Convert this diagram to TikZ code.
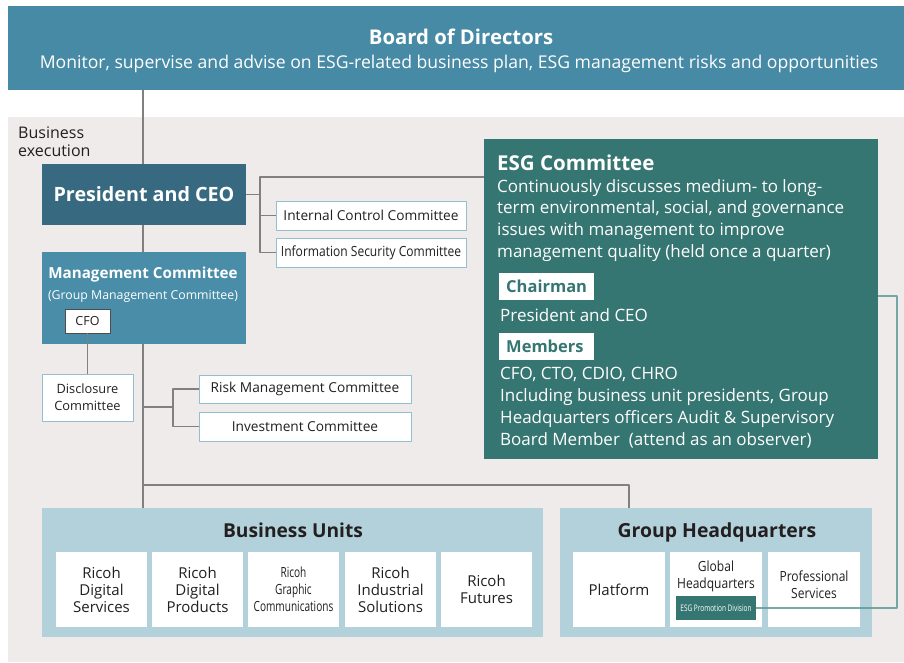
\documentclass[tikz,border=0pt]{standalone}
\usepackage{fontspec}
\setmainfont{Open Sans}
\newfontfamily\narrowfont[FakeStretch=0.72]{Open Sans}
\newfontfamily\semifont[FakeStretch=0.86]{Open Sans}
\usetikzlibrary{positioning,calc}
\definecolor{boardblue}{RGB}{71,138,165}
\definecolor{presblue}{RGB}{55,106,128}
\definecolor{mgmtblue}{RGB}{74,141,168}
\definecolor{esgteal}{RGB}{54,118,114}
\definecolor{bggray}{RGB}{239,235,234}
\definecolor{unitblue}{RGB}{179,209,219}
\definecolor{comborder}{RGB}{146,190,206}
\definecolor{linegray}{RGB}{128,128,128}
\definecolor{esgline}{RGB}{95,156,153}
\definecolor{textdark}{RGB}{35,31,32}
\newcommand\fs[2]{\fontsize{#1}{#2}\selectfont}

\begin{document}
\begin{tikzpicture}[x=1pt,y=-1pt, line join=round, text=textdark,
  link/.style={draw=linegray, line width=1.1pt},
  esglink/.style={draw=esgline, line width=1.2pt},
  combox/.style={draw=comborder, fill=white, line width=1pt, inner sep=0pt, align=center},
  unit/.style={fill=white, minimum width=91pt, minimum height=75pt, inner sep=0pt, align=center, font=\fs{15}{17}},
  tag/.style={fill=white, text=esgteal, minimum width=95pt, minimum height=27pt, inner sep=0pt, font=\bfseries\fs{16.5}{18}, text width=81pt, align=left},
  txt/.style={inner sep=0pt, anchor=base west}]
\useasboundingbox (0,0) rectangle (904,662);
\fill[bggray] (8,117) rectangle (904,662);

% board
\node[fill=boardblue, minimum width=896pt, minimum height=84pt, inner sep=0pt] (board) at (456,48) {};
\node[inner sep=0pt, anchor=base, text=white, font=\bfseries\fs{20.3}{24}] (boardtitle) at (461,44) {Board of Directors};
\node[inner sep=0pt, anchor=base, text=white, font=\fs{17.6}{20}] (boardsub) at (459,68) {Monitor, supervise and advise on ESG-related business plan, ESG management risks and opportunities};
\node[txt, align=left, font=\fs{16}{18}] (busexec) at (18,156) {Business\\execution};

\coordinate (spine) at (143,0);
\coordinate (pj) at (260,177);
\coordinate (mj) at (173,407);
\coordinate (hj) at (629,485);
\coordinate (ej) at (897,296);

% executive nodes
\node[fill=presblue, minimum width=204pt, minimum height=61pt, inner sep=0pt, text=white, font=\bfseries\fs{19.7}{24}] (pres) at (144,194.5) {President and CEO};
\node[fill=mgmtblue, minimum width=204pt, minimum height=92pt, inner sep=0pt] (mgmt) at (144,298) {};
\node[inner sep=0pt, anchor=base, text=white, font=\bfseries\fs{15.2}{18}] (mgmttitle) at (143,278) {Management Committee};
\node[inner sep=0pt, anchor=base, text=white, font=\fs{12.3}{15}] (mgmtsub) at (143,299) {(Group Management Committee)};
\node[draw=black!70, fill=white, line width=0.8pt, minimum width=45pt, minimum height=24pt, inner sep=0pt, font=\fs{12.5}{14}] (cfo) at (87.5,321) {CFO};
\node[combox, minimum width=91pt, minimum height=47pt, font=\fs{12.8}{17}] (disc) at (87.5,397.5) {Disclosure\\Committee};

\node[combox, minimum width=190pt, minimum height=29pt, font=\fs{13.7}{16}] (icc) at (371,215.5) {Internal Control Committee};
\node[combox, minimum width=190pt, minimum height=29pt, font=\semifont\fs{14}{16}] (isc) at (371,252.5) {Information Security Committee};
\node[combox, minimum width=212pt, minimum height=28pt, font=\fs{13.7}{16}] (risk) at (305,389) {Risk Management Committee};
\node[combox, minimum width=212pt, minimum height=29pt, font=\fs{13.7}{16}] (inv) at (305,426.5) {Investment Committee};

% ESG committee
\node[fill=esgteal, minimum width=394pt, minimum height=320pt, inner sep=0pt] (esg) at (681,299) {};
\node[txt, text=white, font=\bfseries\fs{20.5}{24}] (esgtitle) at (497,170) {ESG Committee};
\node[inner sep=0pt, anchor=north west, align=left, text=white, font=\fs{17}{21.7}] (esgtext) at (497,179) {Continuously discusses medium- to long-\\term environmental, social, and governance\\issues with management to improve\\management quality (held once a quarter)};
\node[tag, anchor=north west] (chair) at (499,273) {Chairman};
\node[txt, text=white, font=\fs{17}{18}] (chairname) at (500,321) {President and CEO};
\node[tag, anchor=north west] (memb) at (499,333) {Members};
\node[inner sep=0pt, anchor=north west, align=left, text=white, font=\fs{17}{22}] (membtext) at (500,367) {CFO, CTO, CDIO, CHRO\\Including business unit presidents, Group\\Headquarters officers Audit \& Supervisory\\Board Member~~(attend as an observer)};

% business units and headquarters
\node[fill=unitblue, minimum width=501pt, minimum height=129pt, inner sep=0pt] (bu) at (292.5,572.5) {};
\node[inner sep=0pt, anchor=base, font=\bfseries\fs{19.2}{20}] (butitle) at (293,537) {Business Units};
\node[unit] (rds) at (101.5,589.5) {Ricoh\\Digital\\Services};
\node[unit] (rdp) at (197.5,589.5) {Ricoh\\Digital\\Products};
\node[unit, font=\narrowfont\fs{14}{17}] (rgc) at (293.5,589.5) {Ricoh\\Graphic\\Communications};
\node[unit] (ris) at (390.5,589.5) {Ricoh\\Industrial\\Solutions};
\node[unit] (rf) at (486.5,589.5) {Ricoh\\Futures};

\node[fill=unitblue, minimum width=312pt, minimum height=129pt, inner sep=0pt] (ghq) at (716,572.5) {};
\node[inner sep=0pt, anchor=base, font=\bfseries\fs{19.4}{20}] (ghqtitle) at (717,537) {Group Headquarters};
\node[unit, minimum width=92pt] (plat) at (619,589.5) {Platform};
\node[unit, minimum width=92pt] (glob) at (716,589.5) {};
\node[inner sep=0pt, anchor=base, align=center, font=\semifont\fs{14}{16.5}] (globtext) at (716,588) {Global\\Headquarters};
\node[unit, minimum width=92pt] (prof) at (814,589.5) {};
\node[inner sep=0pt, align=center, font=\semifont\fs{14}{17}] (proftext) at (814,584.5) {Professional\\Services};
\node[fill=esgteal, minimum width=80pt, minimum height=24pt, inner sep=0pt, text=white, font=\narrowfont\fs{9}{11}] (promo) at (716,608) {ESG Promotion Division};

% connectors
\draw[link] (board.south -| spine) -- (pres.north -| spine) (pres.south -| spine) -- (mgmt.north -| spine) (mgmt.south -| spine) -- (bu.north -| spine);
\draw[link] (pres.east) -- (pres.east -| pj);
\draw[link] (esg.west |- pj) -- (pj) |- (isc.west);
\draw[link] (pj |- icc.west) -- (icc.west);
\draw[link] (cfo.south) -- (disc.north);
\draw[link] (spine |- mj) -- (mj);
\draw[link] (risk.west) -- (risk.west -| mj) -- (inv.west -| mj) -- (inv.west);
\draw[link] (spine |- hj) -- (hj) -- (hj |- ghq.north);
\draw[esglink, opacity=0.85] (promo.east) -| (ej) -- (esg.east |- ej);
\end{tikzpicture}
\end{document}
